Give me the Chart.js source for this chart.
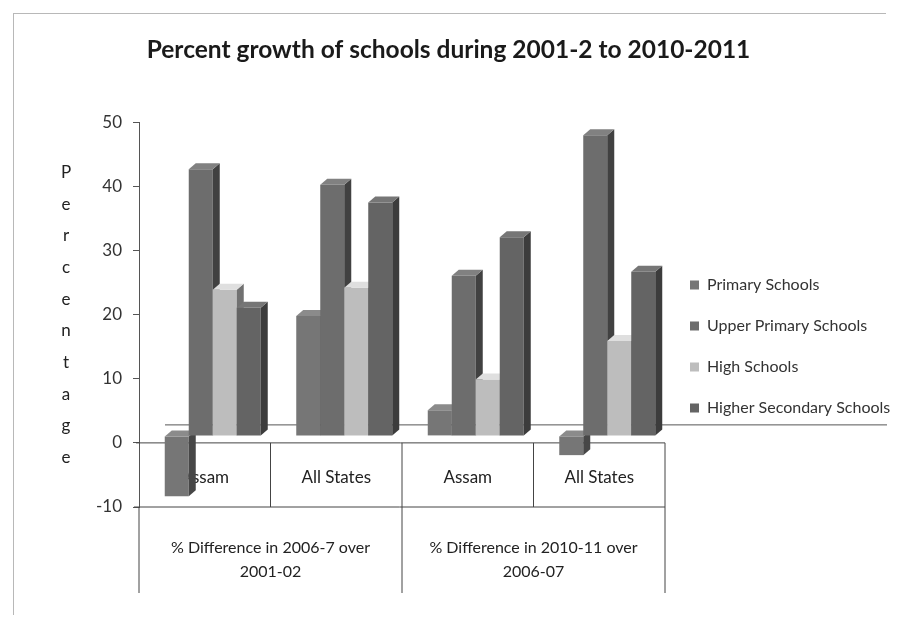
<!DOCTYPE html>
<html>
<head>
<meta charset="utf-8">
<script src="https://cdn.jsdelivr.net/npm/chart.js@4.4.1/dist/chart.umd.min.js"></script>
<style>
  html, body { margin: 0; background: #fff; }
  #wrap { position: relative; width: 897px; height: 621px; }
  #frame { position: absolute; left: 13px; top: 13px; right: 11px; bottom: 6px; border-top: 1px solid #b8b8b8; border-left: 1px solid #b8b8b8; pointer-events: none; }
</style>
</head>
<body>
<div id="wrap">
  <canvas id="chart" width="897" height="621"></canvas>
  <div id="frame"></div>
</div>
<script>
const categories = ["Assam", "All States", "Assam", "All States"]
const periods = [["% Difference in 2006-7 over", "2001-02"], ["% Difference in 2010-11 over", "2006-07"]]
const primarySchools = [-9.4, 18.7, 4, -3]
const upperPrimarySchools = [41.6, 39.2, 25, 46.9]
const highSchools = [22.8, 23.1, 8.8, 14.8]
const higherSecondarySchools = [20, 36.4, 31, 25.6]
const yTicks = { min: -10, max: 50, step: 10 }
const yTitle = "Percentage"

const FONT = "Lato, 'Open Sans', sans-serif"
const DX = 8, DY = 7       // bar fronts sit a little back on the floor
const SIDE = 7, TOP = 6    // depth of the side and top faces

function shade(hex, f) {
  const n = parseInt(hex.slice(1), 16)
  const c = [n >> 16, (n >> 8) & 255, n & 255].map((v) => Math.max(0, Math.min(255, Math.round(v * f))))
  return `rgb(${c.join(",")})`
}

function poly(ctx, pts, color) {
  ctx.fillStyle = color
  ctx.beginPath()
  pts.forEach(([px, py], i) => (i ? ctx.lineTo(px, py) : ctx.moveTo(px, py)))
  ctx.closePath()
  ctx.fill()
}

// category table under the plot, the 3d floor line, and bars with side/top faces
const bars3d = {
  id: "bars3d",
  beforeDatasetsDraw(chart) {
    const { ctx, chartArea: area, scales: { x, y } } = chart
    const y0 = y.getPixelForValue(0)
    const yLow = y.getPixelForValue(yTicks.min)
    const yEnd = yLow + 86
    const cell = x.getPixelForValue(1) - x.getPixelForValue(0)
    const edge = (i) => x.getPixelForValue(i) - cell / 2

    ctx.save()
    ctx.strokeStyle = "#555"
    ctx.lineWidth = 1
    const line = (x1, y1, x2, y2) => { ctx.beginPath(); ctx.moveTo(x1, y1); ctx.lineTo(x2, y2); ctx.stroke() }
    line(area.left + 26, y0 - 18, chart.width - 10, y0 - 18)
    ctx.strokeStyle = "#444"
    line(area.left - 3, y0, area.right, y0)
    line(area.left - 5, yLow, area.right, yLow)
    line(area.left, yLow, area.left, yEnd)
    line(edge(1), y0, edge(1), yLow)
    line(edge(3), y0, edge(3), yLow)
    line(edge(2), y0, edge(2), yEnd)
    line(area.right, y0, area.right, yEnd)

    ctx.fillStyle = "#222"
    ctx.textAlign = "center"
    ctx.textBaseline = "middle"
    ctx.font = `17px ${FONT}`
    categories.forEach((c, i) => ctx.fillText(c, x.getPixelForValue(i), (y0 + yLow) / 2 + 3))
    ctx.font = `16px ${FONT}`
    periods.forEach((lines, g) => {
      const cx = (x.getPixelForValue(g * 2) + x.getPixelForValue(g * 2 + 1)) / 2
      lines.forEach((t, k) => ctx.fillText(t, cx, yLow + 41 + k * 24))
    })

    ctx.font = `17px ${FONT}`
    yTitle.split("").forEach((ch, i) => ctx.fillText(ch, 66, area.top + 50 + i * 31.7))

    ctx.translate(DX, -DY)
    chart.data.datasets.forEach((ds, i) => {
      chart.getDatasetMeta(i).data.forEach((bar) => {
        const { x: cx, y: vy, base, width } = bar.getProps(["x", "y", "base", "width"], true)
        const l = cx - width / 2, r = cx + width / 2
        const t = Math.min(vy, base), b = Math.max(vy, base)
        bar.draw(ctx)
        poly(ctx, [[r, t], [r + SIDE, t - TOP], [r + SIDE, b - TOP], [r, b]], shade(ds.backgroundColor, 0.6))
        poly(ctx, [[l, t], [l + SIDE, t - TOP], [r + SIDE, t - TOP], [r, t]], shade(ds.backgroundColor, 1.18))
      })
    })
    ctx.restore()
    return false
  },
}

new Chart(document.getElementById("chart"), {
  type: "bar",
  data: {
    labels: categories,
    datasets: [
      { label: "Primary Schools", data: primarySchools, backgroundColor: "#767676" },
      { label: "Upper Primary Schools", data: upperPrimarySchools, backgroundColor: "#6d6d6d" },
      { label: "High Schools", data: highSchools, backgroundColor: "#bdbdbd" },
      { label: "Higher Secondary Schools", data: higherSecondarySchools, backgroundColor: "#646464" },
    ],
  },
  options: {
    responsive: false,
    animation: false,
    categoryPercentage: 0.73,
    barPercentage: 1,
    layout: { padding: { left: 0, right: 0, top: 0, bottom: 114 } },
    scales: {
      x: { display: false },
      y: {
        min: yTicks.min,
        max: yTicks.max,
        afterFit: (scale) => { scale.width = 139 },
        ticks: { stepSize: yTicks.step, padding: 11, color: "#333", font: { family: FONT, size: 17 } },
        grid: { drawOnChartArea: false, tickLength: 6, color: "#555" },
        border: { color: "#555" },
      },
    },
    plugins: {
      title: {
        display: true,
        text: "Percent growth of schools during 2001-2 to 2010-2011",
        color: "#1a1a1a",
        font: { family: FONT, size: 24.5, weight: "bold" },
        padding: { top: 35, bottom: 58 },
      },
      legend: {
        position: "right",
        fullSize: false,
        maxWidth: 232,
        title: { display: true, text: " ", font: { size: 12 }, padding: { top: 24, bottom: 25 } },
        labels: { boxWidth: 9, boxHeight: 9, padding: 25, color: "#333", font: { family: FONT, size: 16 } },
      },
      tooltip: { enabled: false },
    },
  },
  plugins: [bars3d],
})
</script>
</body>
</html>
